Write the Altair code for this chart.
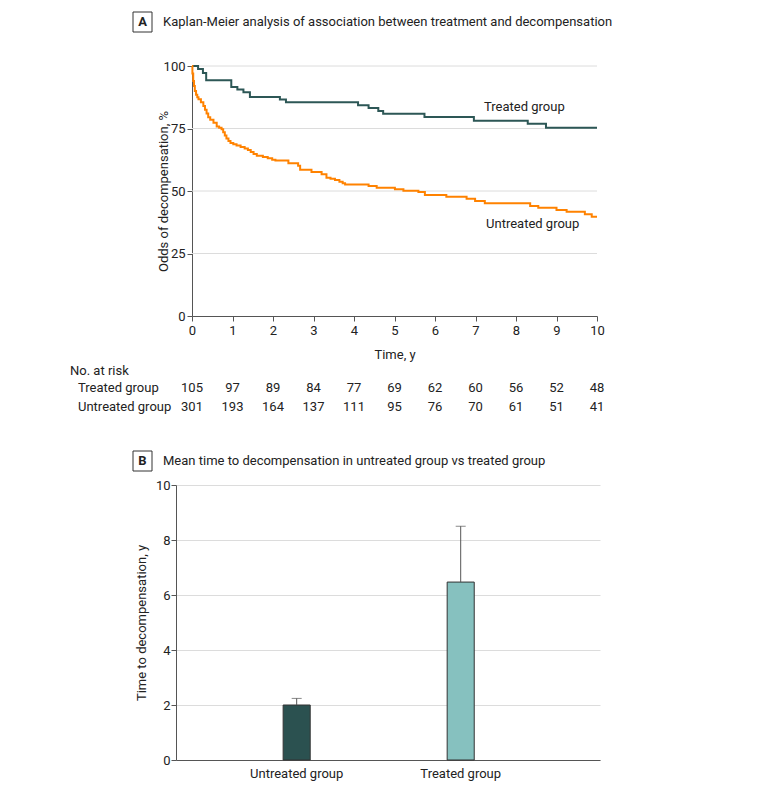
import altair as alt
import pandas as pd

FONT = "Roboto"
DARK = "#2d5756"
ORANGE = "#ff8200"
GRID = "#dcdcdc"
AXIS = "#555555"
TXT = "#222222"

# ---------------- Panel A data ----------------
treated_t = [0, 0.15, 0.27, 0.35, 0.97, 1.12, 1.27, 1.43, 2.17, 2.32, 4.1, 4.36,
             4.6, 4.72, 5.74, 6.96, 8.29, 8.74, 10]
treated_s = [100, 98.8, 97.2, 94.3, 91.6, 90.6, 89.5, 87.6, 86.6, 85.5, 84.3, 83.2,
             82.0, 80.9, 79.6, 78.1, 76.9, 75.3, 75.3]

untreated_t = [0, 0.01, 0.03, 0.05, 0.07, 0.1, 0.13, 0.16, 0.22, 0.28, 0.32, 0.36,
               0.4, 0.45, 0.53, 0.61, 0.67, 0.73, 0.77, 0.81, 0.85, 0.9, 0.95,
               1.02, 1.1, 1.2, 1.3, 1.38, 1.45, 1.52, 1.6, 1.75, 1.87, 1.98, 2.06,
               2.38, 2.62, 2.67, 2.95, 3.2, 3.32, 3.42, 3.53, 3.64, 3.72, 3.78,
               4.36, 4.56, 5.01, 5.22, 5.59, 5.75, 6.28, 6.78, 6.99, 7.23, 8.35,
               8.55, 9.0, 9.25, 9.7, 9.87, 10]
untreated_s = [100, 97, 94, 92, 90, 88.5, 87.5, 86.7, 85.5, 84, 82.5, 81,
               79.5, 78.5, 77.3, 75.8, 75.3, 74.7, 73.5, 72.2, 71, 70, 69.2,
               68.7, 68.2, 67.6, 67, 66.4, 65.6, 64.8, 64.1, 63.6, 63.1, 62.5, 62.2,
               61.1, 60.1, 58.5, 57.6, 56.7, 55.3, 54.9, 54.4, 53.7, 53.1, 52.6,
               52.0, 51.3, 50.7, 50.1, 49.6, 48.4, 47.7, 46.9, 46.0, 45.1, 44.0,
               43.3, 42.4, 41.7, 40.7, 39.7, 39.7]

km_groups = ["Treated group", "Untreated group"]
km_colors = [DARK, ORANGE]

risk_times = [0, 1, 2, 3, 4, 5, 6, 7, 8, 9, 10]
risk_treated = [105, 97, 89, 84, 77, 69, 62, 60, 56, 52, 48]
risk_untreated = [301, 193, 164, 137, 111, 95, 76, 70, 61, 51, 41]

grid_a = [25, 50, 75, 100]
ticks_a_y = [0, 25, 50, 75, 100]

# ---------------- Panel B data ----------------
groups_b = ["Untreated group", "Treated group"]
means_b = [2.0, 6.47]
upper_b = [2.24, 8.5]
bar_colors = ["#2b5150", "#86c1bf"]
ticks_b_y = [0, 2, 4, 6, 8, 10]

# ---------------- build tables ----------------
km_df = pd.concat([
    pd.DataFrame({"t": treated_t, "s": treated_s, "group": "Treated group"}),
    pd.DataFrame({"t": untreated_t, "s": untreated_s, "group": "Untreated group"}),
])
risk_df = pd.DataFrame({"t": risk_times, "treated": risk_treated, "untreated": risk_untreated})
grid_df = pd.DataFrame({"s": grid_a})
bar_df = pd.DataFrame({"group": groups_b, "mean": means_b, "upper": upper_b})
one = pd.DataFrame({"a": [0]})

W_A, H_A = 421, 250
W_B, H_B = 424, 275

x_a = alt.X("t:Q",
            scale=alt.Scale(domain=[0, 10], range=[16, W_A], nice=False, zero=False),
            axis=alt.Axis(values=risk_times, title="Time, y", grid=False, tickSize=5,
                          labelPadding=3, labelFlush=False, titleY=38, titleBaseline="middle",
                          titleFontWeight="normal", titleFontSize=13))
y_a = alt.Y("s:Q",
            scale=alt.Scale(domain=[0, 100], nice=False),
            axis=alt.Axis(values=ticks_a_y, title="Odds of decompensation, %", grid=False,
                          offset=-16, tickSize=5, labelPadding=2, labelFlush=False,
                          titleX=-29, titleY=125,
                          titleBaseline="middle", titleAlign="center",
                          titleFontWeight="normal", titleFontSize=13))

grid_a_layer = alt.Chart(grid_df).mark_rule(color=GRID, strokeWidth=1).encode(
    y=y_a, x=alt.value(16), x2=alt.value(W_A))

lines = alt.Chart(km_df).mark_line(interpolate="step-after", strokeWidth=2).encode(
    x=x_a, y=y_a,
    color=alt.Color("group:N", scale=alt.Scale(domain=km_groups, range=km_colors), legend=None),
    detail="group:N")

lab_treated = alt.Chart(one).mark_text(align="left", baseline="middle", fontSize=13,
                                       font=FONT, color=TXT).encode(
    x=alt.datum(7.21), y=alt.datum(83.6), text=alt.value("Treated group"))
lab_untreated = alt.Chart(one).mark_text(align="left", baseline="middle", fontSize=13,
                                         font=FONT, color=TXT).encode(
    x=alt.datum(7.26), y=alt.datum(36.8), text=alt.value("Untreated group"))

risk_t = alt.Chart(risk_df).mark_text(align="center", baseline="middle", fontSize=13,
                                      font=FONT, color=TXT).encode(
    x=x_a, y=alt.value(322), text="treated:Q")
risk_u = alt.Chart(risk_df).mark_text(align="center", baseline="middle", fontSize=13,
                                      font=FONT, color=TXT).encode(
    x=x_a, y=alt.value(341), text="untreated:Q")

def txt(label, x, y, align="left", weight="normal", size=13):
    return alt.Chart(one).mark_text(align=align, baseline="middle", fontSize=size,
                                    font=FONT, color=TXT, fontWeight=weight).encode(
        x=alt.value(x), y=alt.value(y), text=alt.value(label))

def box(y):
    return alt.Chart(one).mark_rect(fill="white", stroke="#333333", strokeWidth=1).encode(
        x=alt.value(-43), x2=alt.value(-24), y=alt.value(y - 10), y2=alt.value(y + 10))

row_no = txt("No. at risk", -106, 305)
row_t = txt("Treated group", -98, 322)
row_u = txt("Untreated group", -98, 341)

title_a = alt.layer(box(-44), txt("A", -33.5, -44, align="center", weight="bold"),
                    txt("Kaplan-Meier analysis of association between treatment and decompensation", -13, -44))

chart_a = alt.layer(grid_a_layer, lines, lab_treated, lab_untreated, risk_t, risk_u,
                    row_no, row_t, row_u, title_a).properties(width=W_A, height=H_A)

# ---------------- Panel B ----------------
x_b = alt.X("group:N", sort=groups_b,
            scale=alt.Scale(domain=groups_b, paddingInner=0.835, paddingOuter=0.71, align=0.46),
            axis=alt.Axis(title=None, labelAngle=0, ticks=False, labelPadding=7, grid=False))
y_b_axis = alt.Axis(values=ticks_b_y, title="Time to decompensation, y", grid=True,
                    gridColor=GRID, tickSize=5, labelPadding=1, labelFlush=False,
                    titleX=-35, titleY=137.5,
                    titleBaseline="middle", titleAlign="center",
                    titleFontWeight="normal", titleFontSize=13)
y_b_scale = alt.Scale(domain=[0, 10], nice=False)

bars = alt.Chart(bar_df).mark_bar(stroke="#333333", strokeWidth=1).encode(
    x=x_b,
    y=alt.Y("mean:Q", scale=y_b_scale, axis=y_b_axis),
    fill=alt.Fill("group:N", scale=alt.Scale(domain=groups_b, range=bar_colors), legend=None))
err = alt.Chart(bar_df).mark_rule(color=AXIS, strokeWidth=1).encode(
    x=x_b, y=alt.Y("mean:Q", scale=y_b_scale, axis=y_b_axis), y2="upper:Q")
cap = alt.Chart(bar_df).mark_tick(color=AXIS, thickness=1, size=10).encode(
    x=x_b, y=alt.Y("upper:Q", scale=y_b_scale, axis=y_b_axis))

title_b = alt.layer(box(-24), txt("B", -33.5, -24, align="center", weight="bold"),
                    txt("Mean time to decompensation in untreated group vs treated group", -13, -24))

chart_b = alt.layer(bars, err, cap, title_b).properties(width=W_B, height=H_B)

chart = alt.vconcat(chart_a, chart_b, spacing=36).properties(
    padding={"left": 62, "top": 3, "right": 10, "bottom": 5}
).configure_view(stroke=None).configure_axis(
    labelFont=FONT, titleFont=FONT, labelFontSize=13, labelColor=TXT, titleColor=TXT,
    domainColor=AXIS, tickColor=AXIS, domainWidth=1
)

chart.save("out.html", embed_options={"renderer": "svg", "actions": False})
